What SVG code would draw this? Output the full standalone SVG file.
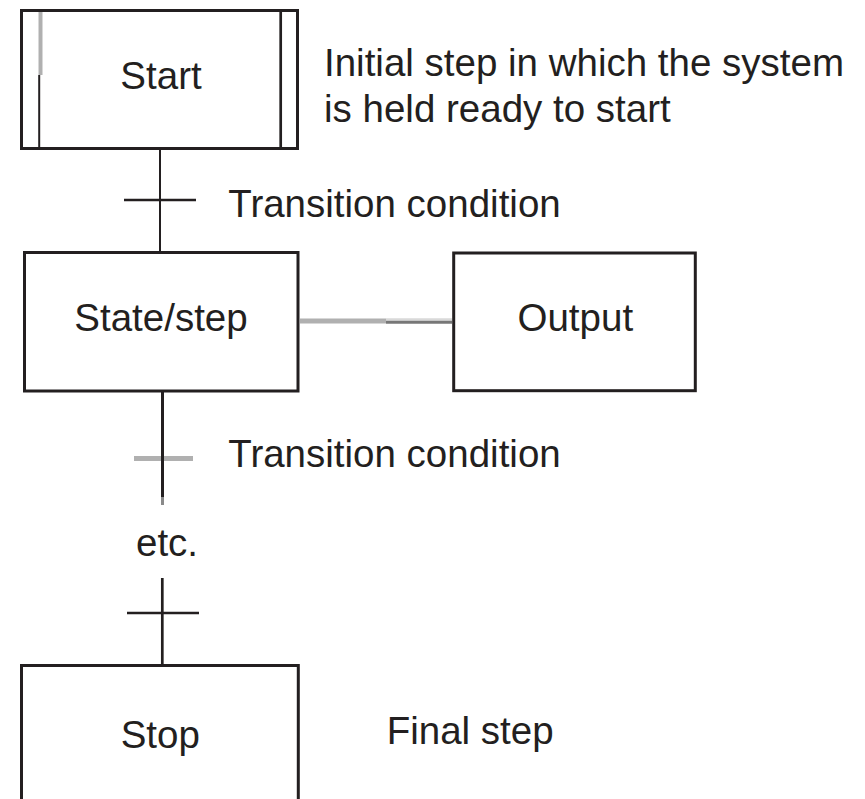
<svg xmlns="http://www.w3.org/2000/svg" width="865" height="799" viewBox="0 0 865 799">
  <style>
    .box { fill: #ffffff; stroke: #231f20; stroke-width: 3; }
    .ln { stroke: #231f20; fill: none; }
    .t { font-family: "Liberation Sans", Arial, Helvetica, sans-serif; font-size: 38.5px; fill: #231f20; }
    .c { text-anchor: middle; }
  </style>
  <rect width="865" height="799" fill="#ffffff"/>
  <g id="connectors">
    <line class="ln" x1="160" y1="149" x2="160" y2="252" stroke-width="2"/>
    <line class="ln" x1="124" y1="200" x2="196" y2="200" stroke-width="2.5"/>
    <line x1="300" y1="321" x2="386" y2="321" stroke="#b0b0b0" stroke-width="5"/>
    <line x1="386" y1="319.5" x2="452" y2="319.5" stroke="#d9d9d9" stroke-width="2.4"/>
    <line x1="386" y1="322.2" x2="452" y2="322.2" stroke="#777777" stroke-width="3"/>
    <line x1="134" y1="458.5" x2="193" y2="458.5" stroke="#b0b0b0" stroke-width="5"/>
    <line class="ln" x1="162.5" y1="391" x2="162.5" y2="497" stroke-width="3"/>
    <line x1="162.5" y1="497" x2="162.5" y2="505" stroke="#8a8a8a" stroke-width="3"/>
    <line class="ln" x1="162.3" y1="578" x2="162.3" y2="665" stroke-width="2.7"/>
    <line class="ln" x1="127" y1="613" x2="199" y2="613" stroke-width="2.5"/>
  </g>
  <g id="start">
    <rect class="box" x="21.5" y="10.5" width="276" height="138"/>
    <line x1="40.5" y1="12" x2="40.5" y2="75" stroke="#b0b0b0" stroke-width="4"/>
    <line class="ln" x1="39.2" y1="75" x2="39.2" y2="148" stroke-width="2"/>
    <line class="ln" x1="280.7" y1="12" x2="280.7" y2="148" stroke-width="2.7"/>
    <text class="t c" x="161" y="89.3">Start</text>
  </g>
  <g id="start-note">
    <text class="t" x="324" y="76">Initial step in which the system</text>
    <text class="t" x="324" y="121.7">is held ready to start</text>
  </g>
  <g id="transition1">
    <text class="t" x="228.3" y="216.7">Transition condition</text>
  </g>
  <g id="state">
    <rect class="box" x="24.5" y="252.5" width="273.5" height="138.5"/>
    <text class="t c" x="161" y="330.7">State/step</text>
  </g>
  <g id="output">
    <rect class="box" x="453.7" y="253" width="241.6" height="137.7"/>
    <text class="t c" x="575.3" y="330.7">Output</text>
  </g>
  <g id="transition2">
    <text class="t" x="228.3" y="466.7">Transition condition</text>
  </g>
  <g id="etc">
    <text class="t c" x="167" y="556">etc.</text>
  </g>
  <g id="stop">
    <path class="ln" d="M21.5 805 V665.5 H298.3 V805" stroke-width="3" fill="#ffffff"/>
    <text class="t c" x="160.3" y="747.7">Stop</text>
  </g>
  <g id="stop-note">
    <text class="t" x="386.7" y="744.3">Final step</text>
  </g>
</svg>
